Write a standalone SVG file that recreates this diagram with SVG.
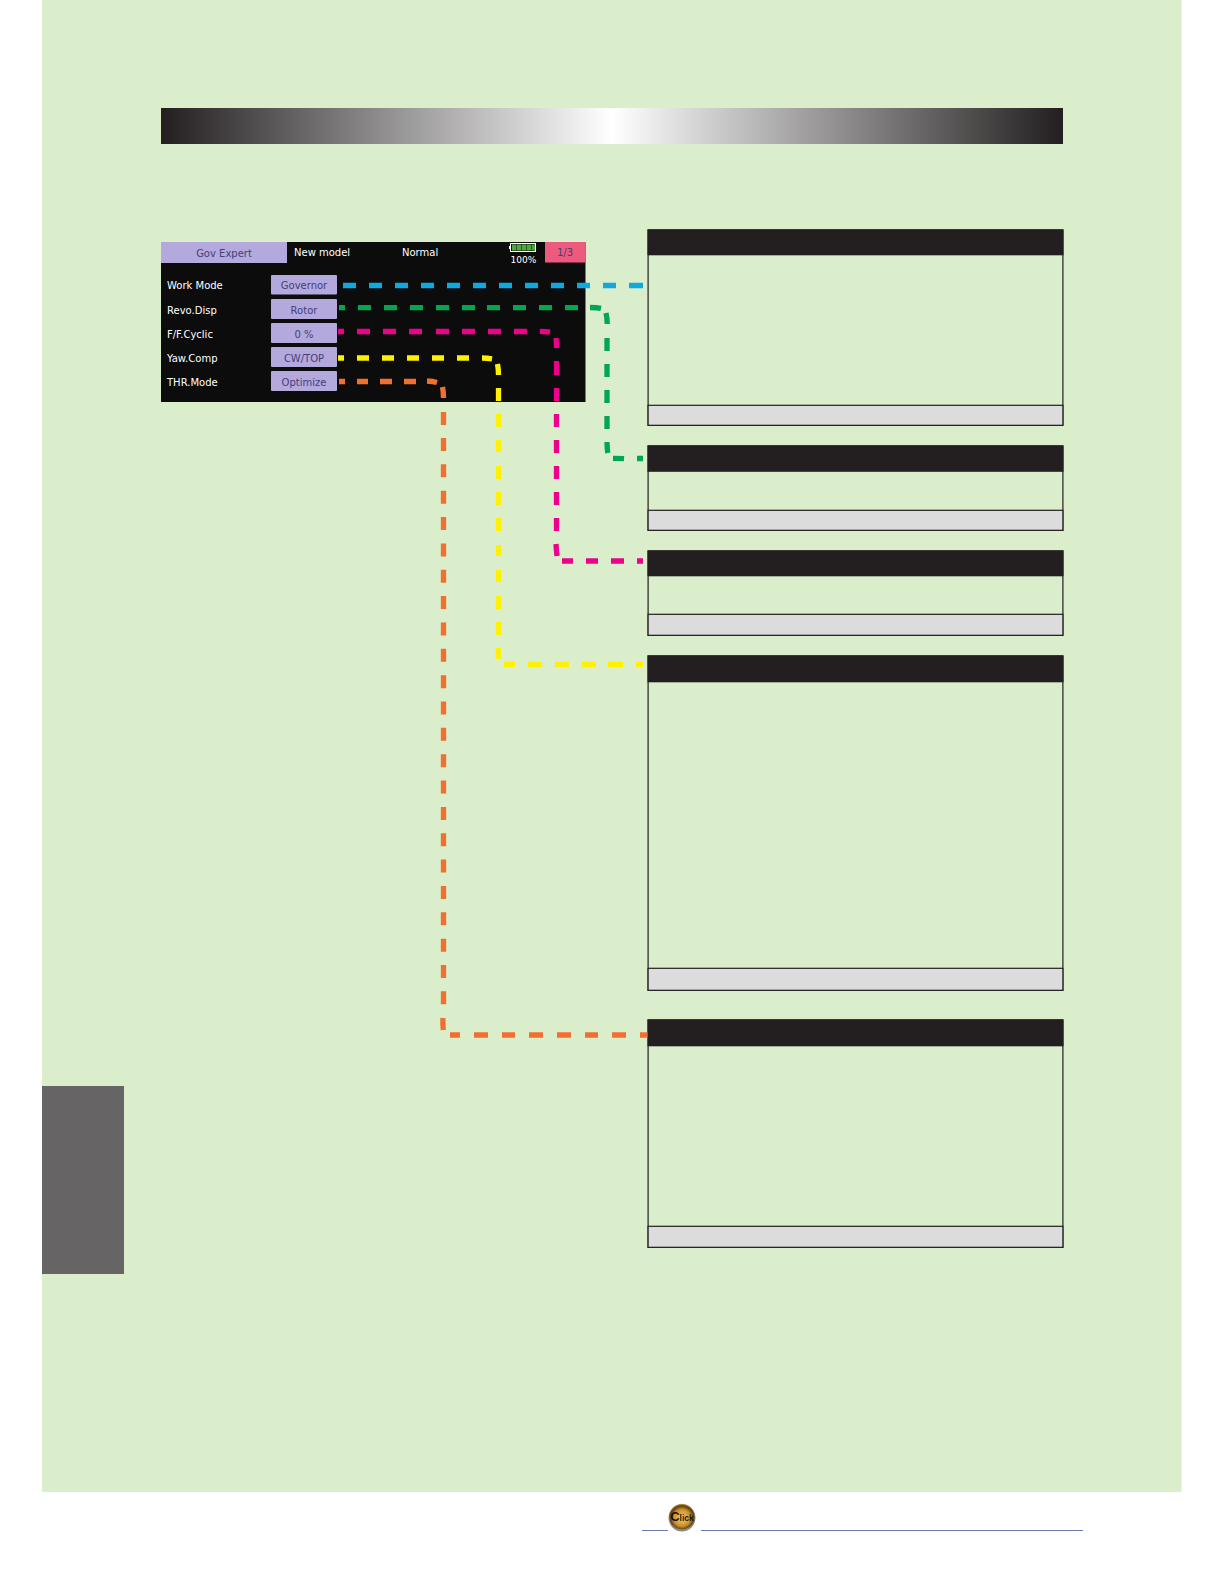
<svg xmlns="http://www.w3.org/2000/svg" width="1224" height="1584" viewBox="0 0 1224 1584">
<style>
.t{font-family:"DejaVu Sans",Arial,sans-serif;font-size:10px;fill:#fff}
.d{fill:#45407a;text-anchor:middle}
.btn{fill:#b3a9dd}
.hd{fill:#231f20}
.bd{fill:#daeecc;stroke:#231f20;stroke-width:1.2}
.ft{fill:#dcdcdc;stroke:#231f20;stroke-width:1.2}
.c{fill:none;stroke-width:5.3}
</style>
<defs>
<linearGradient id="g"><stop offset="0" stop-color="#231f20"/><stop offset=".5" stop-color="#fff"/><stop offset="1" stop-color="#231f20"/></linearGradient>
<radialGradient id="k" cx=".5" cy=".55" r=".55"><stop offset="0" stop-color="#f3d470"/><stop offset=".6" stop-color="#c98f2a"/><stop offset=".85" stop-color="#5a3a12"/><stop offset="1" stop-color="#d6ad5a"/></radialGradient>
</defs>
<rect width="1224" height="1584" fill="#fff"/>
<rect x="42" y="0" width="1139.500" height="1492" fill="#daeecc"/>
<rect x="42" y="1086" width="82" height="188" fill="#666464"/>
<rect x="161" y="108" width="902" height="36" fill="url(#g)"/>
<g id="screen">
<rect x="161" y="242" width="424.500" height="160" fill="#0c0c0c"/>
<rect x="161" y="242" width="126" height="21" fill="#b3a9dd"/>
<text class="t d" x="224" y="257">Gov Expert</text>
<text class="t" x="294" y="256">New model</text>
<text class="t" x="402" y="256">Normal</text>
<rect x="510.500" y="243.500" width="25" height="8" fill="#111" stroke="#fff"/>
<rect x="509" y="246" width="1.500" height="3" fill="#fff"/>
<path d="M512 247.500h4.500M517 247.500h4.500M522 247.500h4.500M527 247.500h4.500M532 247.500h3" stroke="#4ea83c" stroke-width="6"/>
<text class="t" x="510.500" y="262.500" style="font-size:9px">100%</text>
<rect x="545" y="242" width="40.500" height="20.500" fill="#ee5a7e"/>
<text class="t d" x="565" y="256">1/3</text>
<text class="t" x="167" y="289">Work Mode</text>
<text class="t" x="167" y="313.500">Revo.Disp</text>
<text class="t" x="167" y="337.500">F/F.Cyclic</text>
<text class="t" x="167" y="361.500">Yaw.Comp</text>
<text class="t" x="167" y="385.500">THR.Mode</text>
<rect class="btn" x="271" y="275" width="66" height="19.500" rx="1"/>
<rect class="btn" x="271" y="299" width="66" height="20" rx="1"/>
<rect class="btn" x="271" y="323" width="66" height="20" rx="1"/>
<rect class="btn" x="271" y="347" width="66" height="20" rx="1"/>
<rect class="btn" x="271" y="371" width="66" height="20" rx="1"/>
<text class="t d" x="304" y="289">Governor</text>
<text class="t d" x="304" y="313.500">Rotor</text>
<text class="t d" x="304" y="337.500">0 %</text>
<text class="t d" x="304" y="361.500">CW/TOP</text>
<text class="t d" x="304" y="385.500">Optimize</text>
</g>
<g id="box1"><rect class="bd" x="648.100" y="230" width="414.800" height="195.300"/><rect class="ft" x="648.100" y="405.300" width="414.800" height="20"/><rect class="hd" x="647.500" y="229.300" width="416" height="26"/></g>
<g id="box2"><rect class="bd" x="648.100" y="446" width="414.800" height="84.300"/><rect class="ft" x="648.100" y="510.300" width="414.800" height="20"/><rect class="hd" x="647.500" y="445.300" width="416" height="26.500"/></g>
<g id="box3"><rect class="bd" x="648.100" y="551" width="414.800" height="84.300"/><rect class="ft" x="648.100" y="614.300" width="414.800" height="21"/><rect class="hd" x="647.500" y="550.300" width="416" height="26"/></g>
<g id="box4"><rect class="bd" x="648.100" y="656" width="414.800" height="334.300"/><rect class="ft" x="648.100" y="968.300" width="414.800" height="22"/><rect class="hd" x="647.500" y="655.300" width="416" height="27"/></g>
<g id="box5"><rect class="bd" x="648.100" y="1020" width="414.800" height="227.300"/><rect class="ft" x="648.100" y="1226.300" width="414.800" height="21"/><rect class="hd" x="647.500" y="1019.300" width="416" height="27"/></g>
<g id="connectors">
<path class="c" stroke="#0fa9e0" d="M343 285.500h13M369 285.500h13M395 285.500h13M421 285.500h13M447 285.500h13M473 285.500h13M499 285.500h13M525 285.500h13M551 285.500h13M577 285.500h13M603 285.500h13M629 285.500h14"/>
<path class="c" stroke="#00a651" d="M339 307.700h6M358 307.700h13M384 307.700h13M410 307.700h13M436 307.700h13M462 307.700h13M487 307.700h13M513 307.700h13M539 307.700h13M565 307.700h13M590 307.500q7 0 11 .8M606 313q1.200 5 1.200 11M607 338v13M607 364v13M607 390v13M607 416v13M607 442q0 6 .8 11M613 458.300q5 0 11 .4M637 458.500h6"/>
<path class="c" stroke="#ec008c" d="M338 331.500h6M357 331.500h13M383 331.500h13M409 331.500h13M436 331.500h13M462 331.500h13M488 331.500h13M514 331.500h13M540 331.300q6 0 10 .8M556 338q.500 5 .500 10M556.500 361v14M556.500 388v13M556.500 414v13M556.500 440v13M556.500 466v13M556.500 492v13M556.500 518v13M556 544q.300 6 1 12M562 561h11M586 561h12M611 561h13M637 561h6"/>
<path class="c" stroke="#fff200" d="M338 358h6M357 358h12M382 358h12M407 358h12M432 358h12M457 358h12M482 358q5 0 10 .8M497.500 364q1 5 1 11M498.500 388v13M498.500 414v13M498.500 440v12M498.500 466v13M498.500 492v13M498.500 518v13M498.500 545v11M498.500 570v12M498.500 596v13M498.500 622v13M498.500 648q0 6-.5 11M504 664.500h11M528 664.500h14M555 664.500h14M582 664.500h14M608 664.500h15M636 664.500h7"/>
<path class="c" stroke="#f26f2e" d="M339 381.500h6M357 381.500h11M380 381.500h12M404 381.500h12M427 381q6 .3 10 1.500M442.500 387q1 5 1 11M443.500 412v13"/>
<path class="c" stroke="#f26f2e" stroke-dasharray="13 13.350" d="M443.500 438V1006"/>
<path class="c" stroke="#f26f2e" d="M443 1018q-.300 6 .3 12M450 1035h10M474 1035h14M502 1035h13M529 1035h14M557 1035h14M585 1035h13M612 1035h14M640 1035h7.500"/>
</g>
<g id="click">
<circle cx="682" cy="1518" r="13.500" fill="#8a8a80"/>
<circle cx="682" cy="1516.500" r="12.800" fill="url(#k)"/>
<text x="682" y="1521" text-anchor="middle" font-family="Liberation Sans,Arial,sans-serif" font-weight="700" font-size="8.500" fill="#1c1208"><tspan font-size="13">C</tspan>lick</text>
<path d="M642 1530.500H668M701 1530.500H1083" stroke="#6b78a8" stroke-width="1"/>
</g>
</svg>
